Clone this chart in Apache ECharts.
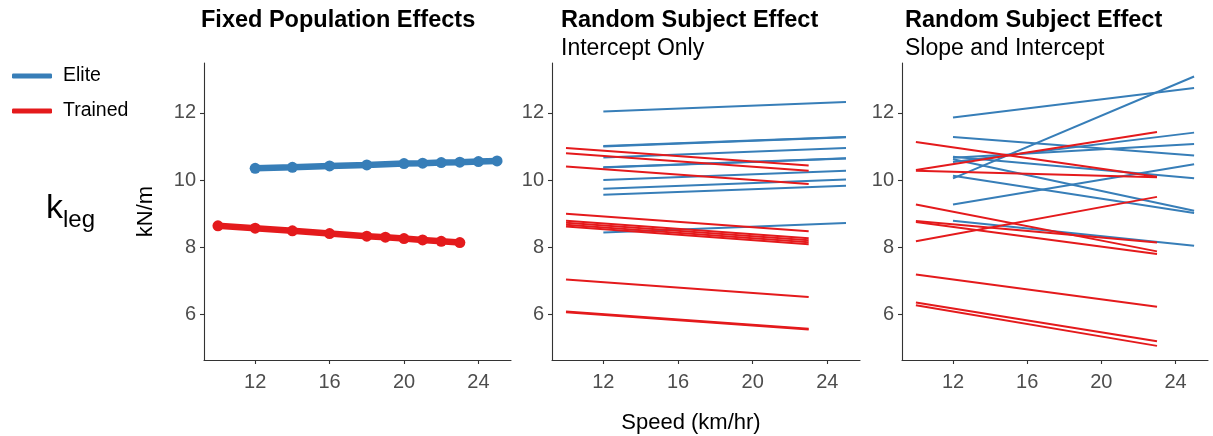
<!DOCTYPE html>
<html><head><meta charset="utf-8">
<script src="https://cdn.jsdelivr.net/npm/echarts@6/dist/echarts.min.js"></script>
<style>html,body{margin:0;padding:0;background:#fff}#c{width:1213px;height:436px}</style>
</head><body><div id="c"></div>
<script>
// ---- data ----
const xTicks = [12, 16, 20, 24];
const yTicks = [6, 8, 10, 12];
const groups = ['Elite', 'Trained'];
const panelTitles = ['Fixed Population Effects', 'Random Subject Effect', 'Random Subject Effect'];
const panelSubtitles = ['', 'Intercept Only', 'Slope and Intercept'];

const fixedEliteSpeed = [12, 14, 16, 18, 20, 21, 22, 23, 24, 25];
const fixedElite = [10.35, 10.38, 10.42, 10.45, 10.49, 10.50, 10.52, 10.53, 10.55, 10.57];
const fixedTrainedSpeed = [10, 12, 14, 16, 18, 19, 20, 21, 22, 23];
const fixedTrained = [8.64, 8.57, 8.49, 8.41, 8.33, 8.30, 8.26, 8.22, 8.18, 8.14];

const eliteSpeedRange = [12, 25];
const trainedSpeedRange = [10, 23];

// Random intercept only: value at start speed / end speed for each subject
const intEliteStart = [12.04, 11.01, 11.00, 10.67, 10.38, 10.37, 10.00, 9.74, 9.56, 8.44];
const intEliteEnd   = [12.32, 11.28, 11.27, 10.95, 10.65, 10.64, 10.28, 10.02, 9.83, 8.72];
const intTrainedStart = [10.95, 10.80, 10.40, 9.00, 8.79, 8.73, 8.67, 8.62, 7.04, 6.09, 6.07];
const intTrainedEnd   = [10.43, 10.28, 9.88, 8.48, 8.27, 8.21, 8.15, 8.09, 6.52, 5.58, 5.56];

// Random slope and intercept
const slopeEliteStart = [11.86, 10.05, 11.28, 10.54, 10.66, 10.69, 10.62, 10.13, 9.27, 8.79];
const slopeEliteEnd   = [12.74, 13.08, 10.73, 11.41, 11.07, 10.05, 9.09, 9.02, 10.47, 8.05];
const slopeTrainedStart = [11.13, 10.30, 10.28, 9.27, 8.78, 8.75, 8.18, 7.19, 6.36, 6.28];
const slopeTrainedEnd   = [10.10, 11.43, 10.08, 7.88, 8.14, 7.80, 9.50, 6.23, 5.21, 5.07];

// ---- styling ----
const FONT = "'Liberation Sans', Arial, Helvetica, sans-serif";
const colors = { Elite: '#377EB8', Trained: '#E41A1C' };
const X_MIN = 9.25, X_MAX = 25.75, Y_MIN = 4.65, Y_MAX = 13.48;
const grids = [
  { left: 204, top: 63, width: 307, height: 297 },
  { left: 552, top: 63, width: 308, height: 297 },
  { left: 902, top: 63, width: 306, height: 297 }
];
const titleLefts = [201, 561, 905];

const xAxes = grids.map((g, i) => ({
  gridIndex: i, type: 'value', min: X_MIN, max: X_MAX,
  axisLine: { show: true, lineStyle: { color: '#333', width: 1.1 } },
  axisTick: { show: true, length: 4, customValues: xTicks, lineStyle: { color: '#333', width: 1.1 } },
  axisLabel: { customValues: xTicks, fontSize: 20, color: '#4D4D4D', margin: 12, fontFamily: FONT },
  splitLine: { show: false }
}));
const yAxes = grids.map((g, i) => ({
  gridIndex: i, type: 'value', min: Y_MIN, max: Y_MAX,
  name: i === 0 ? 'kN/m' : '', nameLocation: 'middle', nameGap: 47,
  nameTextStyle: { fontSize: 22, color: '#000', fontFamily: FONT },
  axisLine: { show: true, lineStyle: { color: '#333', width: 1.1 } },
  axisTick: { show: true, length: 4, customValues: yTicks, lineStyle: { color: '#333', width: 1.1 } },
  axisLabel: { customValues: yTicks, fontSize: 20, color: '#4D4D4D', margin: 8, fontFamily: FONT },
  splitLine: { show: false }
}));

const series = [];
// panel 1
series.push({
  name: 'Elite', type: 'line', xAxisIndex: 0, yAxisIndex: 0,
  data: fixedEliteSpeed.map((s, k) => [s, fixedElite[k]]),
  color: colors.Elite, lineStyle: { width: 6.5 }, symbol: 'circle', symbolSize: 11, showSymbol: true,
  itemStyle: { color: colors.Elite }, silent: true
});
series.push({
  name: 'Trained', type: 'line', xAxisIndex: 0, yAxisIndex: 0,
  data: fixedTrainedSpeed.map((s, k) => [s, fixedTrained[k]]),
  color: colors.Trained, lineStyle: { width: 6.5 }, symbol: 'circle', symbolSize: 11, showSymbol: true,
  itemStyle: { color: colors.Trained }, silent: true
});
function addSubjectLines(panel, group, starts, ends, range) {
  starts.forEach((v, k) => {
    series.push({
      name: group, type: 'line', xAxisIndex: panel, yAxisIndex: panel,
      data: [[range[0], v], [range[1], ends[k]]],
      color: colors[group], lineStyle: { width: 2 }, showSymbol: false, symbol: 'none', silent: true
    });
  });
}
addSubjectLines(1, 'Elite', intEliteStart, intEliteEnd, eliteSpeedRange);
addSubjectLines(1, 'Trained', intTrainedStart, intTrainedEnd, trainedSpeedRange);
addSubjectLines(2, 'Elite', slopeEliteStart, slopeEliteEnd, eliteSpeedRange);
addSubjectLines(2, 'Trained', slopeTrainedStart, slopeTrainedEnd, trainedSpeedRange);

const titles = grids.map((g, i) => ({
  text: panelTitles[i], subtext: panelSubtitles[i],
  left: titleLefts[i], top: 9, itemGap: 4, padding: 0,
  textStyle: { fontSize: 23.5, fontWeight: 'bold', color: '#000', fontFamily: FONT },
  subtextStyle: { fontSize: 23, fontWeight: 'normal', color: '#000', fontFamily: FONT }
}));

const chart = echarts.init(document.getElementById('c'), null, { renderer: 'canvas' });
chart.setOption({
  animation: false,
  backgroundColor: '#fff',
  title: titles,
  grid: grids,
  xAxis: xAxes,
  yAxis: yAxes,
  legend: {
    data: groups, orient: 'vertical', left: 12, top: 65, padding: 0,
    icon: 'roundRect', itemWidth: 40, itemHeight: 5, itemGap: 13,
    textStyle: { fontSize: 19.5, color: '#000', fontFamily: FONT, lineHeight: 22, padding: [0, 0, 0, 6] },
    selectedMode: false
  },
  graphic: [
    { type: 'text', left: 46, top: 192, style: { text: 'k', fontSize: 34, fill: '#000', fontFamily: FONT } },
    { type: 'text', left: 63, top: 208, style: { text: 'leg', fontSize: 24, fill: '#000', fontFamily: FONT } },
    { type: 'text', x: 691, y: 423, style: { text: 'Speed (km/hr)', fontSize: 22, fill: '#000', fontFamily: FONT, align: 'center', verticalAlign: 'middle' } }
  ],
  series: series
});
</script>
</body></html>
